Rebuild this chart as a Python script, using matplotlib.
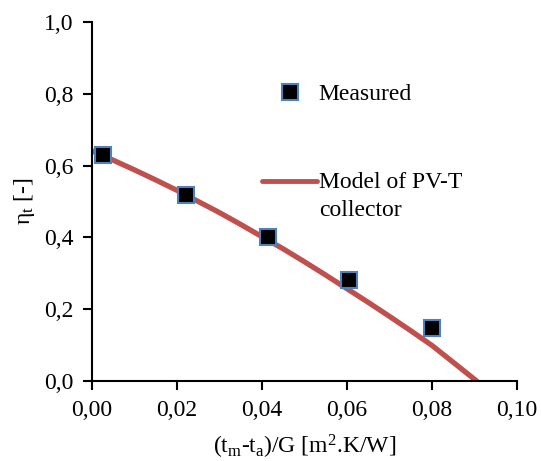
import matplotlib
matplotlib.use('Agg')
import matplotlib.pyplot as plt
import numpy as np

plt.rcParams['font.family'] = ['Liberation Serif', 'DejaVu Serif']
plt.rcParams['mathtext.fontset'] = 'custom'
plt.rcParams['mathtext.rm'] = 'Liberation Serif'
plt.rcParams['mathtext.it'] = 'Liberation Serif:italic'

# medicoes
x_measured = [0.0025, 0.0221, 0.0413, 0.0605, 0.0801]
eta_measured = [0.630, 0.518, 0.402, 0.281, 0.147]

# curva do modelo PV-T
x_model = [0.0, 0.005, 0.01, 0.015, 0.02, 0.025, 0.03, 0.035, 0.04, 0.045,
           0.05, 0.055, 0.06, 0.065, 0.07, 0.075, 0.08, 0.085, 0.0905]
eta_model = [0.641, 0.615, 0.588, 0.560, 0.531, 0.500, 0.469, 0.436, 0.402, 0.368,
             0.332, 0.295, 0.257, 0.219, 0.180, 0.140, 0.099, 0.052, 0.0]

x_ticks = [0.00, 0.02, 0.04, 0.06, 0.08, 0.10]
y_ticks = [0.0, 0.2, 0.4, 0.6, 0.8, 1.0]

cor_linha = '#C0504D'
cor_borda = '#4F81BD'
fs = 17

fig = plt.figure(figsize=(5.41, 4.61), dpi=100)
ax = fig.add_axes([92 / 541, 1 - 381 / 461, (517 - 92) / 541, (381 - 22) / 461])

linha, = ax.plot(x_model, eta_model, color=cor_linha, lw=3.8, solid_capstyle='round',
                 label='Model of PV-T\ncollector', zorder=2)
pontos, = ax.plot(x_measured, eta_measured, ls='none', marker='s', ms=11,
                  mfc='black', mec=cor_borda, mew=1.5, label='Measured', zorder=3)

ax.set_xlim(0, 0.10)
ax.set_ylim(0, 1.0)
ax.set_xticks(x_ticks)
ax.set_xticklabels([f'{v:.2f}'.replace('.', ',') for v in x_ticks])
ax.set_yticks(y_ticks)
ax.set_yticklabels([f'{v:.1f}'.replace('.', ',') for v in y_ticks])
ax.tick_params(labelsize=fs, width=1.5, length=6.5, direction='out', pad=7)

for lado in ['top', 'right']:
    ax.spines[lado].set_visible(False)
for lado in ['left', 'bottom']:
    ax.spines[lado].set_linewidth(1.5)

ax.set_xlabel('(t$_\\mathregular{m}$-t$_\\mathregular{a}$)/G [m$^\\mathregular{2}$.K/W]',
              fontsize=fs, labelpad=9)
ax.set_ylabel('η$_\\mathregular{t}$ [-]', fontsize=fs, labelpad=5)

# legenda em duas partes, como no excel
leg1 = ax.legend([pontos], ['Measured'], loc='center left', bbox_to_anchor=(0.40, 0.798),
                 frameon=False, fontsize=fs, handlelength=2.35, handletextpad=0.05,
                 borderaxespad=0, borderpad=0)
ax.add_artist(leg1)
leg2 = ax.legend([linha], ['Model of PV-T\ncollector'], loc='upper left',
                 bbox_to_anchor=(0.40, 0.582), frameon=False, fontsize=fs,
                 handlelength=2.35, handletextpad=0.05, borderaxespad=0, borderpad=0)
for t in leg2.get_texts():
    t.set_linespacing(1.45)
# excel alinha a linha com a primeira linha do texto
linha_leg = leg2.get_lines()[0]
linha_leg.set_linewidth(3.5)
linha_leg.set_ydata(np.asarray(linha_leg.get_ydata()) + 10.8)

fig.savefig('out.png', dpi=100)
